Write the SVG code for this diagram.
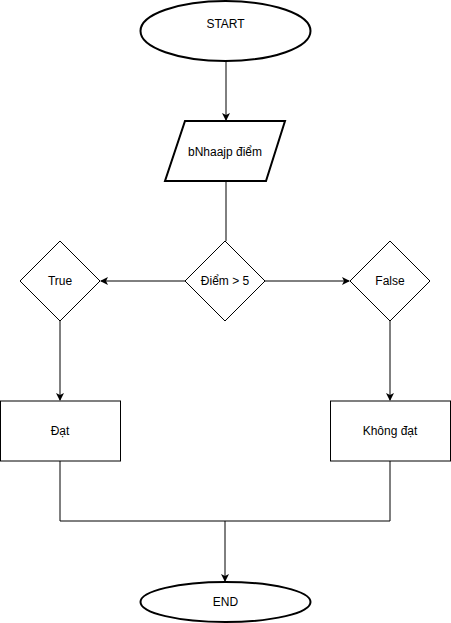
<svg xmlns="http://www.w3.org/2000/svg" width="451" height="623" viewBox="0 0 451 623">
<style>
.t{font-family:"Liberation Sans",Arial,sans-serif;font-size:12px;fill:#000;text-anchor:middle;dominant-baseline:central}
.thick{fill:#fff;stroke:#000;stroke-width:2}
.thin{fill:#fff;stroke:#000;stroke-width:1}
.c{fill:none;stroke:#000;stroke-width:1}
</style>
<defs>
<marker id="a" markerWidth="10" markerHeight="10" refX="7" refY="4" orient="auto" markerUnits="userSpaceOnUse">
<path d="M0,0 L8,4 L0,8 L2,4 Z" fill="#000"/>
</marker>
</defs>
<rect width="451" height="623" fill="#fff"/>
<g id="connectors">
<line class="c" x1="226" y1="61" x2="226" y2="120" marker-end="url(#a)"/>
<line class="c" x1="226" y1="181" x2="226" y2="241"/>
<line class="c" x1="185" y1="281" x2="101" y2="281" marker-end="url(#a)"/>
<line class="c" x1="265" y1="281" x2="349" y2="281" marker-end="url(#a)"/>
<line class="c" x1="60" y1="321" x2="60" y2="400" marker-end="url(#a)"/>
<line class="c" x1="390" y1="321" x2="390" y2="400" marker-end="url(#a)"/>
<polyline class="c" points="60,461 60,521 390,521 390,461"/>
<line class="c" x1="225" y1="521" x2="225" y2="581" marker-end="url(#a)"/>
</g>
<g id="start">
<ellipse class="thick" cx="225.5" cy="31" rx="85" ry="30"/>
<text class="t" x="225.5" y="24">START</text>
</g>
<g id="input">
<polygon class="thick" points="185,121 285,121 266,181 165,181"/>
<text class="t" x="225" y="152">bNhaajp điểm</text>
</g>
<g id="decision">
<polygon class="thin" points="225,241 265,281 225,321 185,281"/>
<text class="t" x="225" y="281">Điểm &gt; 5</text>
</g>
<g id="true">
<polygon class="thin" points="60,241 100,281 60,321 20,281"/>
<text class="t" x="60" y="281">True</text>
</g>
<g id="false">
<polygon class="thin" points="390,241 430,281 390,321 350,281"/>
<text class="t" x="390" y="281">False</text>
</g>
<g id="dat">
<rect class="thin" x="0.5" y="401" width="120" height="60"/>
<text class="t" x="60" y="431">Đạt</text>
</g>
<g id="khongdat">
<rect class="thin" x="330.5" y="401" width="120" height="60"/>
<text class="t" x="390" y="431">Không đạt</text>
</g>
<g id="end">
<ellipse class="thick" cx="225.5" cy="602" rx="85" ry="20"/>
<text class="t" x="225.5" y="602">END</text>
</g>
</svg>
